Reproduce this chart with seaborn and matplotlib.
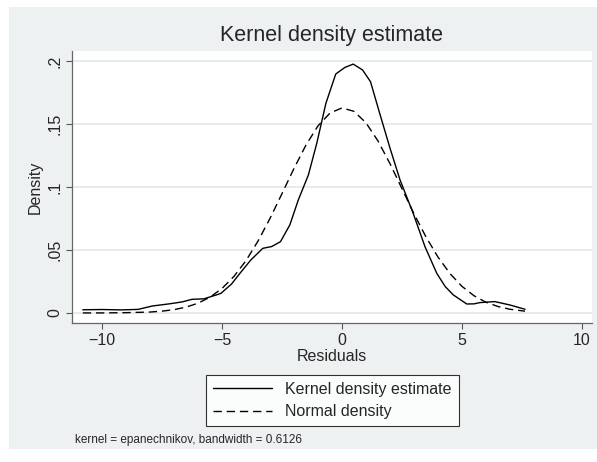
import numpy as np
import pandas as pd
import matplotlib
matplotlib.use("Agg")
import matplotlib.pyplot as plt
import seaborn as sns
from matplotlib.patches import Rectangle

# kernel density estimate
kde_x = [-10.8, -10.0, -9.2, -8.5, -7.9, -7.2, -6.67, -6.25, -5.75, -5.2, -5.04,
         -4.6, -4.25, -3.8, -3.3, -2.93, -2.56, -2.17, -1.82, -1.40, -1.05, -0.67,
         -0.26, 0.125, 0.47, 0.86, 1.19, 1.58, 2.0, 2.42, 2.97, 3.46, 3.95, 4.3,
         4.64, 5.2, 5.5, 5.75, 6.37, 7.0, 7.63]
kde_y = [0.0025, 0.0027, 0.0024, 0.0028, 0.0055, 0.0072, 0.0087, 0.0108, 0.0112,
         0.0145, 0.0156, 0.023, 0.0315, 0.042, 0.0513, 0.0527, 0.0566, 0.070,
         0.0897, 0.1095, 0.1347, 0.1664, 0.1897, 0.195, 0.1976, 0.1929, 0.1836,
         0.158, 0.131, 0.1056, 0.079, 0.0526, 0.0315, 0.021, 0.0143, 0.0071,
         0.0072, 0.0082, 0.009, 0.0063, 0.0029]

# normal density overlay
norm_x = [-10.8, -10.0, -9.0, -8.0, -7.5, -7.0, -6.5, -6.0, -5.5, -5.0, -4.5, -4.0,
          -3.5, -3.0, -2.5, -2.0, -1.5, -1.0, -0.5, 0.0, 0.5, 1.0, 1.5, 2.0, 2.5,
          3.0, 3.5, 4.0, 4.5, 5.0, 5.5, 6.0, 6.5, 7.0, 7.63]
norm_y = [0.0000, 0.0000, 0.0002, 0.0007, 0.0014, 0.0026, 0.0046, 0.0077, 0.0125,
          0.0194, 0.029, 0.0415, 0.057, 0.075, 0.0947, 0.1147, 0.1333, 0.1485,
          0.1587, 0.1628, 0.1601, 0.151, 0.1366, 0.1186, 0.0987, 0.0788, 0.0604,
          0.0444, 0.0313, 0.0211, 0.0137, 0.0085, 0.0051, 0.0029, 0.0014]

x_ticks = [-10, -5, 0, 5, 10]
x_tick_labels = ["\u221210", "\u22125", "0", "5", "10"]
y_ticks = [0, 0.05, 0.1, 0.15, 0.2]
y_tick_labels = ["0", ".05", ".1", ".15", ".2"]

sns.set_style("white")
plt.rcParams['font.family'] = ['Liberation Sans', 'DejaVu Sans']

fig = plt.figure(figsize=(5.97, 4.62), dpi=100)
fig.patches.append(Rectangle((9 / 597, 1 - 449 / 462), 588 / 597, 442 / 462,
                             transform=fig.transFigure, facecolor="#eef1f1",
                             edgecolor="none", zorder=-10))
ax = fig.add_axes([72 / 597, 1 - 323 / 462, 520 / 597, 272 / 462])
ax.set_facecolor("white")

df_k = pd.DataFrame({"x": kde_x, "y": kde_y})
df_n = pd.DataFrame({"x": norm_x, "y": norm_y})
sns.lineplot(data=df_k, x="x", y="y", ax=ax, color="black", lw=1.0,
             label="Kernel density estimate", sort=False)
sns.lineplot(data=df_n, x="x", y="y", ax=ax, color="black", lw=1.0,
             linestyle=(0, (6, 3.5)), label="Normal density", sort=False)

ax.set_xlim(-11.25, 10.42)
ax.set_ylim(-0.008, 0.208)
ax.set_xticks(x_ticks)
ax.set_xticklabels(x_tick_labels, fontsize=11.5)
ax.set_yticks(y_ticks)
ax.set_yticklabels(y_tick_labels, fontsize=11.5, rotation=90, va="center")
ax.tick_params(axis="both", direction="out", length=4, width=0.8, color="#555555",
               left=True, bottom=True, pad=3)

ax.grid(axis="y", color="#e3e8ea", lw=1.2)
ax.grid(axis="x", visible=False)
for s in ["top", "right"]:
    ax.spines[s].set_visible(False)
for s in ["left", "bottom"]:
    ax.spines[s].set_color("#666666")
    ax.spines[s].set_linewidth(0.9)

ax.set_xlabel("Residuals", fontsize=11.5, labelpad=1)
ax.set_ylabel("Density", fontsize=11.5, labelpad=3)
ax.set_title("Kernel density estimate", fontsize=15.5, pad=7)

ax.get_legend().remove()
handles, labels = ax.get_legend_handles_labels()
leg = fig.legend(handles, labels, loc="center", bbox_to_anchor=(332.5 / 597, 1 - 400.5 / 462),
                 frameon=True, fancybox=False, fontsize=11.5, handlelength=3.7,
                 handletextpad=0.8, borderpad=0.45, labelspacing=0.45)
leg.get_frame().set_edgecolor("black")
leg.get_frame().set_linewidth(0.8)

fig.text(75 / 597, 1 - 440 / 462, "kernel = epanechnikov, bandwidth = 0.6126",
         fontsize=8.5, va="center", ha="left")

fig.savefig("out.png", dpi=100, facecolor="white")
